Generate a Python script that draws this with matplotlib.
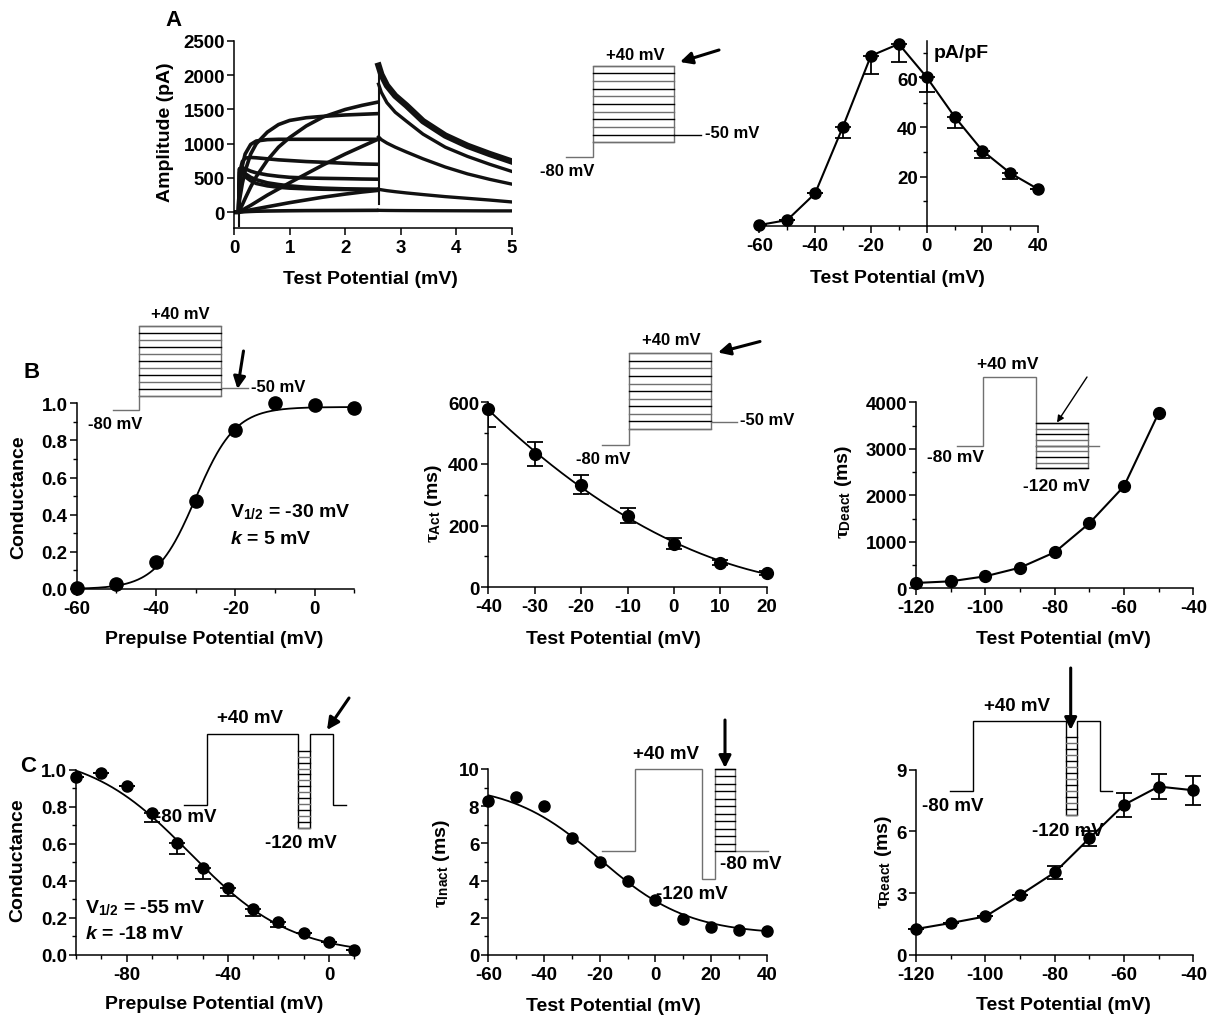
import numpy as np
import matplotlib
matplotlib.use('Agg')
import matplotlib.pyplot as plt
import matplotlib.transforms as mtransforms
from matplotlib.ticker import MultipleLocator, FixedLocator, FormatStrFormatter

# ---------------- DATA ----------------
# Panel A (left): current traces (pA) vs time
trace_t_step = [0.0, 0.08, 0.10, 0.15, 0.2, 0.3, 0.4, 0.6, 0.8, 1.0, 1.3, 1.6, 2.0, 2.3, 2.6]
trace_m50 = [0, 0, 2, 5, 8, 12, 15, 18, 20, 22, 24, 25, 26, 27, 28]
trace_m40 = [0, 0, 5, 12, 20, 35, 50, 80, 110, 140, 180, 220, 265, 295, 320]
trace_m30 = [0, 0, 10, 30, 55, 100, 150, 250, 340, 430, 560, 690, 850, 960, 1070]
trace_m20 = [0, 0, 30, 110, 200, 370, 520, 760, 950, 1090, 1260, 1390, 1500, 1560, 1610]
trace_m10 = [0, 0, 180, 420, 600, 850, 1000, 1170, 1280, 1340, 1380, 1400, 1420, 1430, 1440]
trace_0 = [0, 0, 420, 680, 850, 990, 1040, 1060, 1065, 1065, 1065, 1065, 1065, 1065, 1065]
trace_p10 = [0, 0, 580, 740, 790, 800, 795, 780, 765, 755, 740, 730, 715, 705, 700]
trace_p20 = [0, 0, 630, 650, 635, 600, 575, 545, 525, 510, 500, 495, 490, 485, 482]
trace_p30 = [0, 0, 635, 600, 565, 510, 475, 430, 405, 385, 365, 352, 342, 338, 336]
trace_p40 = [0, 0, 630, 575, 520, 460, 420, 385, 365, 352, 342, 336, 332, 330, 328]
step_traces = [trace_m50, trace_m40, trace_m30, trace_m20, trace_m10,
               trace_0, trace_p10, trace_p20, trace_p30, trace_p40]

trace_t_tail = [2.6, 2.65, 2.75, 2.9, 3.1, 3.4, 3.8, 4.2, 4.6, 5.0]
tail_top = [2140, 2010, 1850, 1700, 1560, 1330, 1120, 970, 850, 740]
tail_2 = [1870, 1750, 1600, 1460, 1330, 1140, 950, 815, 700, 595]
tail_3 = [1100, 1060, 1010, 950, 880, 780, 660, 560, 480, 410]
tail_4 = [335, 328, 315, 300, 282, 258, 228, 203, 178, 150]
tail_5 = [28, 27, 26, 25, 24, 23, 22, 21, 20, 20]
artifact_on_t = [0.09, 0.09]
artifact_on_i = [-200, 630]
artifact_off_t = [2.6, 2.6]
artifact_off_i = [120, 2140]

# Panel A (right): I-V, pA/pF
iv_v = [-60, -50, -40, -30, -20, -10, 0, 10, 20, 30, 40]
iv_i = [0.4, 2.4, 13.2, 40.3, 69.0, 73.8, 60.3, 44.3, 30.5, 21.4, 14.9]
iv_err = [0, 0, 0, 4.8, 7.4, 7.4, 6.1, 4.7, 3.1, 2.4, 0]

# Panel B (left): activation
act_v = [-60, -50, -40, -30, -20, -10, 0, 10]
act_g = [0.005, 0.027, 0.144, 0.472, 0.856, 1.0, 0.991, 0.975]
act_vhalf, act_k, act_top = -30.0, 5.0, 0.98

# Panel B (middle): tau activation
tact_v = [-40, -30, -20, -10, 0, 10, 20]
tact_ms = [578, 432, 332, 232, 142, 80, 47]
tact_err = [58, 38, 31, 24, 18, 8, 6]

# Panel B (right): tau deactivation
tdeact_v = [-120, -110, -100, -90, -80, -70, -60, -50]
tdeact_ms = [115, 150, 258, 444, 774, 1398, 2194, 3771]

# Panel C (left): inactivation
inact_v = [-100, -90, -80, -70, -60, -50, -40, -30, -20, -10, 0, 10]
inact_g = [0.959, 0.98, 0.91, 0.764, 0.603, 0.469, 0.361, 0.248, 0.18, 0.119, 0.072, 0.029]
inact_err = [0, 0, 0, 0.045, 0.06, 0.06, 0.045, 0.035, 0.03, 0, 0, 0]
inact_vhalf, inact_k, inact_top = -55.0, 20.0, 1.1

# Panel C (middle): tau inactivation
tinact_v = [-60, -50, -40, -30, -20, -10, 0, 10, 20, 30, 40]
tinact_ms = [8.3, 8.48, 7.99, 6.29, 4.98, 4.0, 2.97, 1.94, 1.49, 1.36, 1.27]
tinact_top, tinact_bottom, tinact_vhalf, tinact_k = 9.2, 1.1, -20.0, 16.0

# Panel C (right): tau recovery
treact_v = [-120, -110, -100, -90, -80, -70, -60, -50, -40]
treact_ms = [1.25, 1.54, 1.86, 2.9, 4.0, 5.66, 7.29, 8.18, 8.0]
treact_err = [0, 0, 0, 0, 0.3, 0.38, 0.6, 0.6, 0.7]

# ---------------- STYLE ----------------
W, H = 1210, 1020
plt.rcParams.update({
    'font.family': ['Liberation Sans', 'DejaVu Sans'],
    'font.weight': 'bold',
    'font.size': 13,
    'axes.labelweight': 'bold',
    'axes.labelsize': 14,
    'axes.linewidth': 1.1,
    'axes.unicode_minus': False,
    'mathtext.fontset': 'custom',
    'mathtext.rm': 'Liberation Sans:bold',
    'mathtext.bf': 'Liberation Sans:bold',
    'mathtext.it': 'Liberation Serif',
    'mathtext.sf': 'Liberation Sans:bold:italic',
    'xtick.labelsize': 13.5, 'ytick.labelsize': 13.5,
    'xtick.major.size': 5, 'ytick.major.size': 5,
    'xtick.minor.size': 3, 'ytick.minor.size': 3,
    'xtick.major.width': 1.1, 'ytick.major.width': 1.1,
    'xtick.minor.width': 1.0, 'ytick.minor.width': 1.0,
    'xtick.major.pad': 3, 'ytick.major.pad': 1.5,
})

fig = plt.figure(figsize=(W / 100, H / 100), dpi=100)
T = mtransforms.Affine2D().scale(1.0 / W, -1.0 / H).translate(0, 1) + fig.transFigure

# overlay for protocol schematics (drawn below the data)
ov = fig.add_axes([0, 0, 1, 1], zorder=0)
ov.set_xlim(0, W)
ov.set_ylim(H, 0)
ov.axis('off')


def make_ax(left, right, top, bottom, xlim, ylim):
    ax = fig.add_axes([left / W, 1 - bottom / H, (right - left) / W, (bottom - top) / H], zorder=2)
    ax.set_xlim(*xlim)
    ax.set_ylim(*ylim)
    ax.patch.set_visible(False)
    ax.spines[['top', 'right']].set_visible(False)
    return ax


def labels(ax, xlab, xpos, ylab, ypos):
    ax.set_xlabel(xlab, va='center', ha='center')
    ax.xaxis.set_label_coords(xpos[0], xpos[1], transform=T)
    ax.set_ylabel(ylab, va='center', ha='center')
    ax.yaxis.set_label_coords(ypos[0], ypos[1], transform=T)


MS = 8.5
GRAY = '#707070'


def dots(ax, x, y, ms=MS):
    ax.plot(x, y, 'o', color='black', ms=ms, clip_on=False, zorder=4)


def poly(pts, color=GRAY, lw=1.0):
    xs, ys = zip(*pts)
    ov.plot(xs, ys, color=color, lw=lw, solid_joinstyle='miter')


def ladder(x0, x1, y0, y1, n, colors=(GRAY, 'black')):
    for i in range(n):
        y = y0 + i * (y1 - y0) / (n - 1)
        ov.plot([x0, x1], [y, y], color=colors[i % len(colors)], lw=1.0)


def arrow(start, end, lw=2.2, scale=18):
    ov.annotate('', xy=end, xytext=start,
                arrowprops=dict(arrowstyle='-|>', lw=lw, color='black',
                                shrinkA=0, shrinkB=0, mutation_scale=scale))


def ptext(x, y, s, ha='left', size=12):
    ov.text(x, y, s, ha=ha, va='center', fontsize=size, fontweight='bold')


# ---------------- PANEL A left ----------------
axA1 = make_ax(234, 512, 42, 229, (0, 5), (-230, 2500))
for tr in step_traces:
    axA1.plot(trace_t_step, tr, color='#111111', lw=2.6, solid_capstyle='butt')
axA1.plot(trace_t_tail, tail_top, color='#111111', lw=4.6)
for tr in (tail_2, tail_3, tail_4, tail_5):
    axA1.plot(trace_t_tail, tr, color='#111111', lw=2.4)
axA1.plot(artifact_on_t, artifact_on_i, color='#111111', lw=1.5)
axA1.plot(artifact_off_t, artifact_off_i, color='#111111', lw=1.5)
axA1.yaxis.set_major_locator(FixedLocator([0, 500, 1000, 1500, 2000, 2500]))
axA1.xaxis.set_major_locator(MultipleLocator(1))
labels(axA1, 'Test Potential (mV)', (370, 280), 'Amplitude (pA)', (165, 132))
ov.text(174, 20, 'A', ha='center', va='center', fontsize=16, fontweight='bold')

# Panel A protocol
poly([(565.7, 157.7), (592.7, 157.7), (592.7, 66.7), (674.3, 66.7), (674.3, 143.3), (592.7, 143.3)])
ladder(592.7, 674.3, 66.7, 143.3, 11)
poly([(674.3, 135.7), (701, 135.7)], color='black')
ptext(635, 55, '+40 mV', ha='center', size=12)
ptext(705, 134, '-50 mV', size=12)
ptext(540, 172, '-80 mV', size=12)
arrow((719, 51), (680, 63))

# ---------------- PANEL A right ----------------
axA2 = make_ax(756.5, 1038.3, 42, 227, (-61, 40), (0, 75))
axA2.spines['left'].set_position(('data', 0))
axA2.plot(iv_v, iv_i, color='black', lw=1.5, clip_on=False)
axA2.errorbar(iv_v, iv_i, yerr=[iv_err, [0] * len(iv_err)], fmt='none', ecolor='black',
              elinewidth=1.3, capsize=6, capthick=1.3)
dots(axA2, iv_v, iv_i, ms=8)
axA2.xaxis.set_major_locator(FixedLocator([-60, -40, -20, 0, 20, 40]))
axA2.xaxis.set_minor_locator(FixedLocator([-50, -30, -10, 10, 30]))
axA2.yaxis.set_major_locator(FixedLocator([20, 40, 60]))
axA2.yaxis.set_minor_locator(FixedLocator([10, 30, 50, 70]))
axA2.set_xlabel('Test Potential (mV)', va='center', ha='center')
axA2.xaxis.set_label_coords(897, 279, transform=T)
axA2.set_ylabel('pA/pF', rotation=0, ha='left', va='center')
axA2.yaxis.set_label_coords(934, 53, transform=T)

# ---------------- PANEL B left ----------------
axB1 = make_ax(76.7, 354.3, 404.3, 590, (-60, 10), (0, 1.0))
vfit = np.linspace(-60, 10, 300)
axB1.plot(vfit, act_top / (1 + np.exp((act_vhalf - vfit) / act_k)), color='black', lw=1.3)
dots(axB1, act_v, act_g, ms=9.5)
axB1.xaxis.set_major_locator(FixedLocator([-60, -40, -20, 0]))
axB1.xaxis.set_minor_locator(FixedLocator([-50, -30, -10, 10]))
axB1.yaxis.set_major_locator(MultipleLocator(0.2))
axB1.yaxis.set_minor_locator(MultipleLocator(0.1))
axB1.yaxis.set_major_formatter(FormatStrFormatter('%.1f'))
labels(axB1, 'Prepulse Potential (mV)', (214, 640), 'Conductance', (18.5, 497))
axB1.text(230, 512, r'V$_{\mathrm{1/2}}$ = -30 mV', transform=T, ha='left', va='center', fontsize=14)
axB1.text(230, 540, r'$\mathsf{k}$ = 5 mV', transform=T, ha='left', va='center', fontsize=14)
ov.text(32, 373, 'B', ha='center', va='center', fontsize=16, fontweight='bold')

poly([(113.3, 410.7), (139.3, 410.7), (139.3, 326.7), (220.7, 326.7), (220.7, 397.3), (139.3, 397.3)])
ladder(139.3, 220.7, 326.7, 397.3, 11)
poly([(220.7, 389.3), (248.3, 389.3)])
ptext(180, 315, '+40 mV', ha='center', size=12)
ptext(251, 388, '-50 mV', size=12)
ptext(88, 425, '-80 mV', size=12)
arrow((243.5, 352), (237.5, 390))

# ---------------- PANEL B middle ----------------
axB2 = make_ax(488.3, 766.7, 403.3, 588.3, (-40, 20), (0, 600))
coef = np.polyfit(tact_v, tact_ms, 2)
vfit = np.linspace(-40, 20, 300)
axB2.plot(vfit, np.polyval(coef, vfit), color='black', lw=1.3)
axB2.errorbar(tact_v, tact_ms, yerr=tact_err, fmt='none', ecolor='black',
              elinewidth=1.3, capsize=6, capthick=1.3)
dots(axB2, tact_v, tact_ms)
axB2.xaxis.set_major_locator(MultipleLocator(10))
axB2.yaxis.set_major_locator(MultipleLocator(200))
axB2.yaxis.set_minor_locator(MultipleLocator(100))
labels(axB2, 'Test Potential (mV)', (613, 640), r'$\tau_{\mathrm{Act}}$ (ms)', (434, 503))

poly([(601.7, 445.7), (628.7, 445.7), (628.7, 354.3), (710.7, 354.3), (710.7, 430), (628.7, 430)])
ladder(628.7, 710.7, 354.3, 430, 11)
poly([(710.7, 422.7), (736.7, 422.7)])
ptext(671, 341, '+40 mV', ha='center', size=12)
ptext(740, 421, '-50 mV', size=12)
ptext(576, 460, '-80 mV', size=12)
arrow((760, 342.5), (718, 353.5))

# ---------------- PANEL B right ----------------
axB3 = make_ax(916, 1193.3, 403.3, 589.3, (-120, -40), (0, 4000))
axB3.plot(tdeact_v, tdeact_ms, color='black', lw=1.5, clip_on=False)
dots(axB3, tdeact_v, tdeact_ms)
axB3.xaxis.set_major_locator(MultipleLocator(20))
axB3.xaxis.set_minor_locator(MultipleLocator(10))
axB3.yaxis.set_major_locator(MultipleLocator(1000))
axB3.yaxis.set_minor_locator(MultipleLocator(500))
labels(axB3, 'Test Potential (mV)', (1063, 640), r'$\tau_{\mathrm{Deact}}$ (ms)', (844, 492))

poly([(956.7, 446.7), (983.3, 446.7), (983.3, 378.3), (1035.7, 378.3), (1035.7, 469.3)])
poly([(1035.7, 424), (1088.3, 424), (1088.3, 469.3), (1035.7, 469.3)])
ladder(1035.7, 1088.3, 424, 469.3, 9, colors=('black', GRAY))
poly([(1035.7, 446.7), (1099.3, 446.7)])
ptext(1008, 365, '+40 mV', ha='center', size=12.5)
ptext(927, 458, '-80 mV', size=12.5)
ptext(1023, 487, '-120 mV', size=12.5)
arrow((1087, 378), (1057, 423.5), lw=1.0, scale=10)

# ---------------- PANEL C left ----------------
axC1 = make_ax(76, 354.3, 770.7, 956, (-100, 10), (0, 1.0))
vfit = np.linspace(-100, 10, 300)
axC1.plot(vfit, inact_top / (1 + np.exp((vfit - inact_vhalf) / inact_k)), color='black', lw=1.3)
axC1.errorbar(inact_v, inact_g, yerr=[inact_err, [0] * len(inact_err)], fmt='none', ecolor='black',
              elinewidth=1.3, capsize=6, capthick=1.3)
dots(axC1, inact_v, inact_g, ms=8)
axC1.xaxis.set_major_locator(FixedLocator([-80, -40, 0]))
axC1.xaxis.set_minor_locator(MultipleLocator(10))
axC1.yaxis.set_major_locator(MultipleLocator(0.2))
axC1.yaxis.set_minor_locator(MultipleLocator(0.1))
axC1.yaxis.set_major_formatter(FormatStrFormatter('%.1f'))
labels(axC1, 'Prepulse Potential (mV)', (214, 1005), 'Conductance', (17.5, 860))
axC1.text(85, 908, r'V$_{\mathrm{1/2}}$ = -55 mV', transform=T, ha='left', va='center', fontsize=14)
axC1.text(85, 935, r'$\mathsf{k}$ = -18 mV', transform=T, ha='left', va='center', fontsize=14)
ov.text(28, 767, 'C', ha='center', va='center', fontsize=16, fontweight='bold')

poly([(184.3, 806), (206.7, 806), (206.7, 735), (297.7, 735), (297.7, 829), (310, 829),
      (310, 735), (333.3, 735), (333.3, 806), (345.7, 806)], color='black')
ladder(297.7, 310, 751.7, 829, 14, colors=('black', GRAY))
ptext(250, 719, '+40 mV', ha='center', size=13.5)
ptext(155, 818, '-80 mV', size=13.5)
ptext(265, 844, '-120 mV', size=13.5)
arrow((349, 699), (327, 731))

# ---------------- PANEL C middle ----------------
axC2 = make_ax(488.3, 766.7, 770, 956, (-60, 40), (0, 10))
vfit = np.linspace(-60, 40, 300)
axC2.plot(vfit, tinact_bottom + (tinact_top - tinact_bottom) / (1 + np.exp((vfit - tinact_vhalf) / tinact_k)),
          color='black', lw=1.3)
dots(axC2, tinact_v, tinact_ms, ms=8)
axC2.xaxis.set_major_locator(MultipleLocator(20))
axC2.xaxis.set_minor_locator(MultipleLocator(10))
axC2.yaxis.set_major_locator(MultipleLocator(2))
axC2.yaxis.set_minor_locator(MultipleLocator(1))
labels(axC2, 'Test Potential (mV)', (613, 1007), r'$\tau_{\mathrm{Inact}}$ (ms)', (442, 864))

poly([(601.7, 852.3), (635, 852.3), (635, 770), (701.7, 770), (701.7, 880), (715, 880),
      (715, 770), (735, 770), (735, 852.3), (768.3, 852.3)])
ladder(715, 735, 770, 852.3, 12, colors=('black',))
ptext(666, 755, '+40 mV', ha='center', size=13.5)
ptext(720, 865, '-80 mV', size=13.5)
ptext(656, 895, '-120 mV', size=13.5)
arrow((725, 721), (725, 769))

# ---------------- PANEL C right ----------------
axC3 = make_ax(916, 1193.3, 770.7, 955.7, (-120, -40), (0, 9))
axC3.plot(treact_v, treact_ms, color='black', lw=1.5, clip_on=False)
axC3.errorbar(treact_v, treact_ms, yerr=treact_err, fmt='none', ecolor='black',
              elinewidth=1.3, capsize=6, capthick=1.3, clip_on=False)
dots(axC3, treact_v, treact_ms, ms=8)
axC3.xaxis.set_major_locator(MultipleLocator(20))
axC3.xaxis.set_minor_locator(MultipleLocator(10))
axC3.yaxis.set_major_locator(MultipleLocator(3))
labels(axC3, 'Test Potential (mV)', (1063, 1006), r'$\tau_{\mathrm{React}}$ (ms)', (883, 862))

poly([(950, 792.3), (973.3, 792.3), (973.3, 722.3), (1065.7, 722.3), (1065.7, 815.7),
      (1077.3, 815.7), (1077.3, 722.3), (1100, 722.3), (1100, 792.3), (1111.7, 792.3)], color='black')
ladder(1065.7, 1077.3, 738, 815.7, 14, colors=('black', GRAY))
ptext(1017, 707, '+40 mV', ha='center', size=13.5)
ptext(922, 807, '-80 mV', size=13.5)
ptext(1032, 832, '-120 mV', size=13.5)
arrow((1070.7, 669), (1070.7, 731))

fig.savefig('out.png', dpi=100)
